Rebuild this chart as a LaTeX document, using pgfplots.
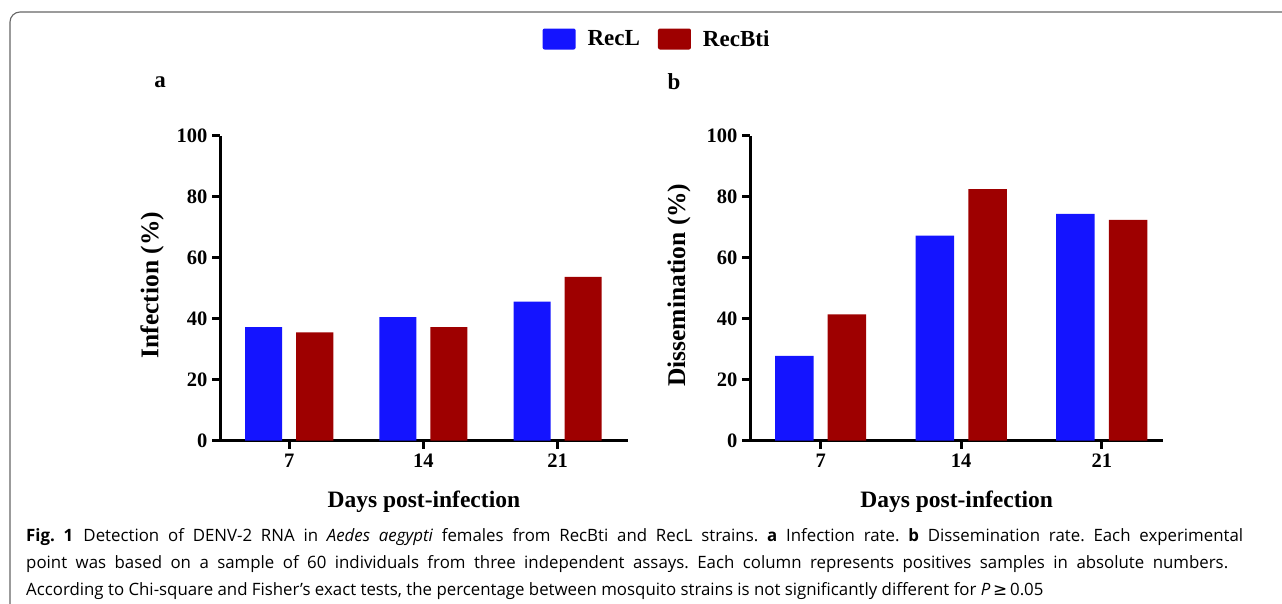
\documentclass[border=0pt]{standalone}
\usepackage{fontspec}
\setmainfont{Liberation Serif}
\newfontfamily\capfont[FakeStretch=0.99]{Open Sans}
\newfontfamily\symfont[FakeStretch=0.99]{DejaVu Sans}
\usepackage{pgfplots}
\pgfplotsset{compat=1.18}
\definecolor{recl}{RGB}{20,20,255}
\definecolor{recbti}{RGB}{158,0,0}
\frenchspacing
\begin{document}
\begin{tikzpicture}
\useasboundingbox (0pt,0pt) rectangle (1282pt,603pt);
\draw[line width=1.1pt, color=black!60, rounded corners=10pt] (10pt,-20pt) -- (10pt,591pt) -- (1300pt,591pt);
\pgfplotsset{
  myaxis/.style={
    scale only axis,
    height=305pt,
    ymin=0, ymax=100,
    ytick={0,20,40,60,80,100},
    xtick={0,1,2},
    xticklabels={7,14,21},
    axis lines=left,
    axis line style={-, line width=3pt, black},
    major tick style={line width=3pt, black},
    tick align=outside,
    major tick length=8pt,
    tick label style={font=\fontsize{20.5}{22}\selectfont\bfseries},
    /pgf/number format/assume math mode=true,
    yticklabel style={xshift=-1pt},
    xticklabel style={yshift=-2pt},
    xlabel style={font=\fontsize{23.5}{26}\selectfont\bfseries},
    ylabel style={font=\fontsize{25.5}{28}\selectfont\bfseries},
    ybar,
    bar width=37pt,
    legend image code/.code={\fill[##1, rounded corners=2pt] (0pt,-10.5pt) rectangle (33pt,10.5pt);},
  },
}
\begin{axis}[myaxis,
  at={(220pt,162.3pt)}, anchor=south west,
  width=407.7pt,
  xmin=-0.516, xmax=2.522,
  ylabel={Infection (\%)},
  xlabel={Days post-infection},
  ylabel style={at={(axis description cs:-0.1668,0.51)}, anchor=center},
  xlabel style={at={(axis description cs:0.5,-0.2)}, anchor=center},
  legend columns=2,
  legend style={at={(axis description cs:1.0719,1.317)}, anchor=center, draw=none,
    font=\fontsize{23}{26}\selectfont\bfseries,
    /tikz/every even column/.append style={column sep=16pt},
    /tikz/every odd column/.append style={column sep=10pt}},
]
\addplot[fill=recl, draw=none, bar shift=-25.5pt] coordinates {(0,37.2) (1,40.5) (2,45.6)};
\addplot[fill=recbti, draw=none, bar shift=25.5pt] coordinates {(0,35.5) (1,37.2) (2,53.7)};
\legend{RecL,RecBti}
\end{axis}
\begin{axis}[myaxis,
  at={(750pt,162.3pt)}, anchor=south west,
  width=413.3pt,
  xmin=-0.503, xmax=2.438,
  bar width=38.5pt,
  ylabel={Dissemination (\%)},
  xlabel={Days post-infection},
  ylabel style={at={(axis description cs:-0.172,0.51)}, anchor=center},
  xlabel style={at={(axis description cs:0.5,-0.2)}, anchor=center},
]
\addplot[fill=recl, draw=none, bar shift=-26.3pt] coordinates {(0,27.8) (1,67.2) (2,74.4)};
\addplot[fill=recbti, draw=none, bar shift=26.3pt] coordinates {(0,41.4) (1,82.5) (2,72.4)};
\end{axis}
\node[font=\fontsize{23}{26}\selectfont\bfseries] at (160pt,521pt) {a};
\node[font=\fontsize{23}{26}\selectfont\bfseries] at (674pt,521pt) {b};
\begin{scope}[every node/.style={anchor=base west, inner sep=0pt, font=\capfont\fontsize{17}{20}\selectfont}]
\node at (26pt,61.3pt) {\hbox to 1217pt{\textbf{Fig.~1}\hspace{0.6em}Detection of DENV-2 RNA in \textit{Aedes aegypti} females from RecBti and RecL strains. \textbf{a} Infection rate. \textbf{b} Dissemination rate. Each experimental}};
\node at (26pt,34.7pt) {\hbox to 1202pt{point was based on a sample of 60 individuals from three independent assays. Each column represents positives samples in absolute numbers.}};
\node at (26pt,8pt) {According to Chi-square and Fisher’s exact tests, the percentage between mosquito strains is not significantly different for \textit{P}\,{\symfont ≥}\,0.05};
\end{scope}
\end{tikzpicture}
\end{document}
